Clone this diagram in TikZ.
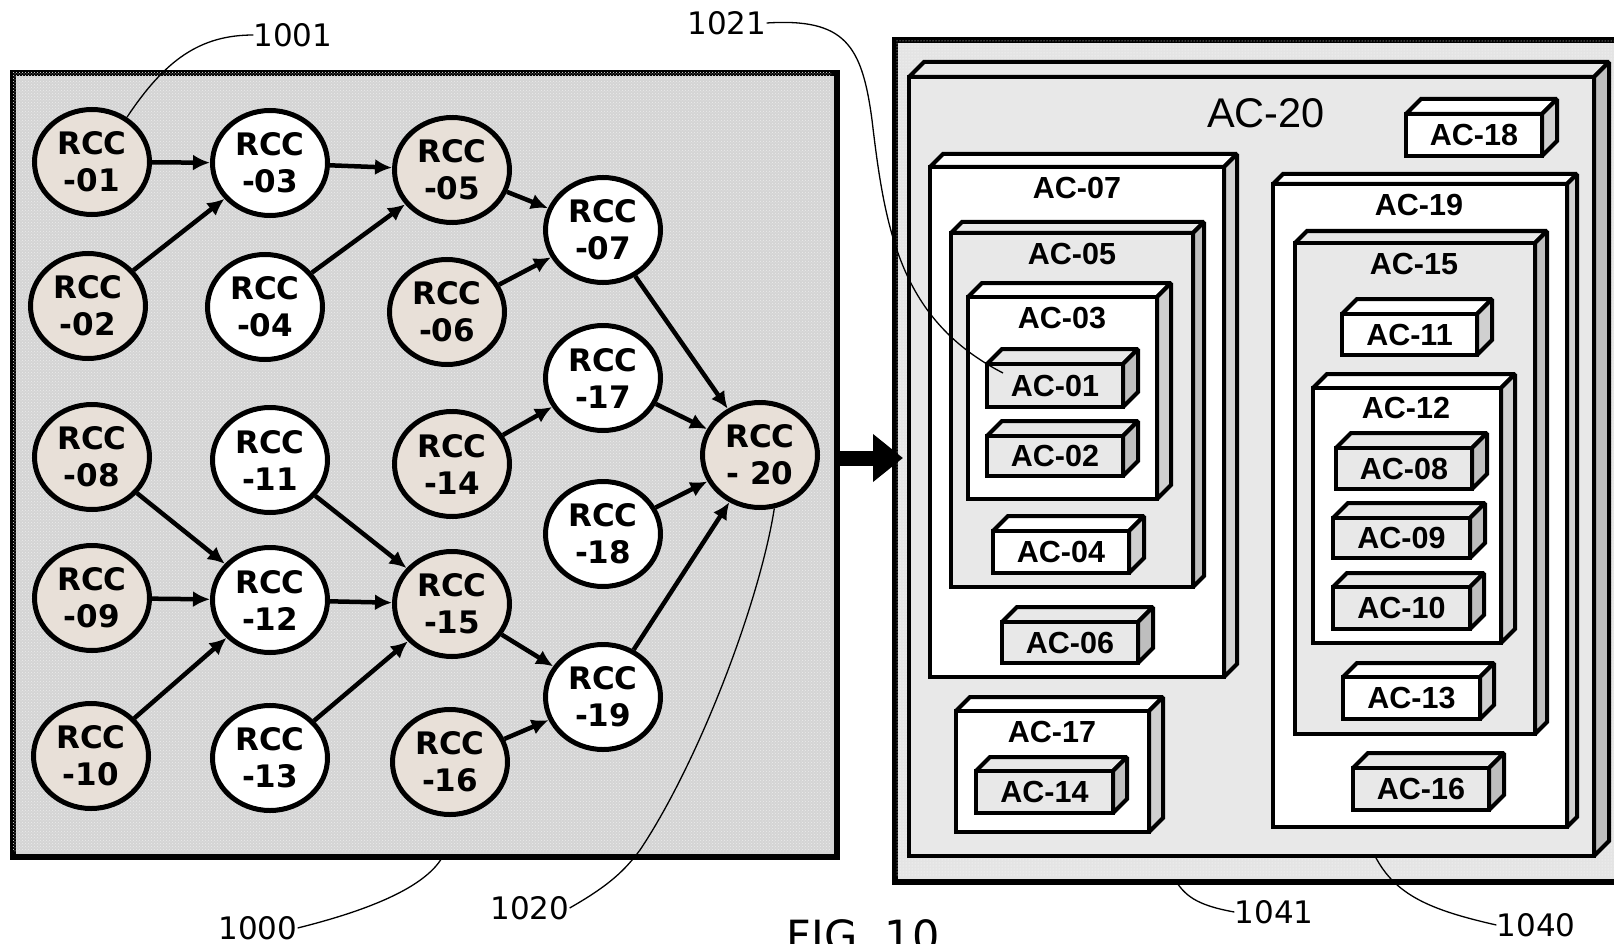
\documentclass[tikz,border=0pt]{standalone}
\usepackage{fontspec}
\setmainfont{DejaVu Sans}
\newfontfamily\arialfont{Liberation Sans}
\usetikzlibrary{arrows.meta,shapes.geometric,patterns}
\definecolor{tannode}{HTML}{E8E0D8}
\definecolor{lightbox}{HTML}{E8E8E8}
\definecolor{sidelight}{HTML}{D0D0D0}
\definecolor{sidedark}{HTML}{BEBEBE}
\definecolor{leftpanel}{HTML}{D4D4D4}
\definecolor{rightpanel}{HTML}{E4E4E4}
\newcommand{\rccfont}{\fontsize{31}{37}\selectfont\bfseries}
\newcommand{\acfont}{\arialfont\fontsize{30.5}{33}\selectfont\bfseries}
\newcommand{\reffont}{\fontsize{31}{33}\selectfont}
\newcommand{\acbox}[8]{%
  \filldraw[boxline,fill=#7] (#2,#3) -- (#2+#6,#3-#6) -- (#4+#6,#3-#6) -- (#4,#3) -- cycle;
  \filldraw[boxline,fill=#8] (#4,#3) -- (#4+#6,#3-#6) -- (#4+#6,#5-#6) -- (#4,#5) -- cycle;
  \node[boxline,draw,fill=#7,anchor=north west,minimum width={#4-#2},minimum height={#5-#3},inner sep=0pt,outer sep=0pt] (#1) at (#2,#3) {};
}
\tikzset{
  rcc/.style={ellipse,draw,line width=5pt,minimum width=115pt,minimum height=105pt,inner sep=0pt,align=center,font=\rccfont},
  rtan/.style={rcc,fill=tannode},
  rwhite/.style={rcc,fill=white},
  edge/.style={line width=4.5pt,-{Latex[length=17pt,width=16pt]}},
  boxline/.style={line width=4pt,line join=miter,miter limit=1.5},
  aclab/.style={font=\acfont,inner sep=0pt},
  refl/.style={font=\reffont,inner sep=0pt},
  leader/.style={line width=1.3pt},
}
\begin{document}
\begin{tikzpicture}[x=1pt,y=-1pt]
\useasboundingbox (0,0) rectangle (1614,944);
\clip (0,0) rectangle (1614,944);
\fill[white] (0,0) rectangle (1614,944);

% left panel
\node[draw,line width=6pt,fill=leftpanel,anchor=north west,minimum width=824pt,minimum height=784pt,inner sep=0pt] (lp) at (10,70) {};
\path[pattern=crosshatch dots,pattern color=white!85!gray] (13,73) rectangle (831,851);

% RCC nodes
\node[rtan]   (r01) at (92,162) {RCC\\-01};
\node[rwhite] (r03) at (270,163) {RCC\\-03};
\node[rtan]   (r05) at (452,170) {RCC\\-05};
\node[rtan]   (r02) at (88,306) {RCC\\-02};
\node[rwhite] (r04) at (265,307) {RCC\\-04};
\node[rtan]   (r06) at (447,312) {RCC\\-06};
\node[rwhite] (r07) at (603,230) {RCC\\-07};
\node[rwhite] (r17) at (603,378) {RCC\\-17};
\node[rtan]   (r20) at (760,455) {RCC\\- 20};
\node[rwhite] (r18) at (603,534) {RCC\\-18};
\node[rwhite] (r19) at (603,697) {RCC\\-19};
\node[rtan]   (r14) at (452,464) {RCC\\-14};
\node[rtan]   (r08) at (92,457) {RCC\\-08};
\node[rwhite] (r11) at (270,460) {RCC\\-11};
\node[rtan]   (r09) at (92,598) {RCC\\-09};
\node[rwhite] (r12) at (270,600) {RCC\\-12};
\node[rtan]   (r15) at (452,604) {RCC\\-15};
\node[rtan]   (r10) at (91,756) {RCC\\-10};
\node[rwhite] (r13) at (270,758) {RCC\\-13};
\node[rtan]   (r16) at (450,762) {RCC\\-16};

% edges
\draw[edge] (r01) -- (r03);
\draw[edge] (r02) -- (r03);
\draw[edge] (r03) -- (r05);
\draw[edge] (r04) -- (r05);
\draw[edge] (r05) -- (r07);
\draw[edge] (r06) -- (r07);
\draw[edge] (r07) -- (r20);
\draw[edge] (r14) -- (r17);
\draw[edge] (r17) -- (r20);
\draw[edge] (r18) -- (r20);
\draw[edge] (r19) -- (r20);
\draw[edge] (r08) -- (r12);
\draw[edge] (r09) -- (r12);
\draw[edge] (r10) -- (r12);
\draw[edge] (r11) -- (r15);
\draw[edge] (r12) -- (r15);
\draw[edge] (r13) -- (r15);
\draw[edge] (r15) -- (r19);
\draw[edge] (r16) -- (r19);

% right outer panel
\node[draw,line width=6pt,fill=rightpanel,anchor=north west,minimum width=760pt,minimum height=842pt,inner sep=0pt] (rp) at (892,37) {};
\path[pattern=dots,pattern color=white] (895,40) rectangle (1614,876);

% big arrow
\coordinate (tip) at (903,458);
\draw[line width=15pt,-{Triangle[length=30pt,width=46pt]}] (lp.east |- tip) -- (tip);

% AC boxes
\acbox{ac20}{909}{77}{1594}{856}{15}{lightbox}{sidedark}
\node[font=\arialfont\fontsize{41.5}{44}\selectfont,inner sep=0pt] (ac20t) at (1266,113) {AC-20};
\acbox{ac18}{1406}{114}{1542}{156}{15}{white}{sidelight}
\node[aclab] (ac18t) at (ac18.center) {AC-18};

\acbox{ac07}{930}{167}{1224}{677}{13}{white}{sidelight}
\node[aclab] (ac07t) at (1077,188) {AC-07};
\acbox{ac05}{951}{233}{1193}{587}{11}{lightbox}{sidedark}
\node[aclab] (ac05t) at (1072,254) {AC-05};
\acbox{ac03}{968}{297}{1157}{499}{14}{white}{sidelight}
\node[aclab] (ac03t) at (1062,318) {AC-03};
\acbox{ac01}{987}{364}{1123}{407}{15}{lightbox}{sidedark}
\node[aclab] (ac01t) at (ac01.center) {AC-01};
\acbox{ac02}{987}{436}{1123}{476}{15}{lightbox}{sidedark}
\node[aclab] (ac02t) at (ac02.center) {AC-02};
\acbox{ac04}{993}{531}{1129}{573}{15}{white}{sidelight}
\node[aclab] (ac04t) at (ac04.center) {AC-04};
\acbox{ac06}{1002}{622}{1138}{663}{15}{lightbox}{sidedark}
\node[aclab] (ac06t) at (ac06.center) {AC-06};

\acbox{ac17}{956}{711}{1149}{832}{14}{white}{sidelight}
\node[aclab] (ac17t) at (1052,732) {AC-17};
\acbox{ac14}{976}{771}{1113}{813}{14}{lightbox}{sidedark}
\node[aclab] (ac14t) at (ac14.center) {AC-14};

\acbox{ac19}{1273}{184}{1567}{827}{10}{white}{sidelight}
\node[aclab] (ac19t) at (1419,205) {AC-19};
\acbox{ac15}{1295}{243}{1535}{734}{12}{lightbox}{sidedark}
\node[aclab] (ac15t) at (1414,264) {AC-15};
\acbox{ac11}{1342}{314}{1477}{355}{15}{white}{sidelight}
\node[aclab] (ac11t) at (ac11.center) {AC-11};
\acbox{ac12}{1313}{388}{1501}{643}{14}{white}{sidelight}
\node[aclab] (ac12t) at (1406,408) {AC-12};
\acbox{ac08}{1336}{448}{1472}{489}{15}{lightbox}{sidedark}
\node[aclab] (ac08t) at (ac08.center) {AC-08};
\acbox{ac09}{1333}{518}{1470}{558}{15}{lightbox}{sidedark}
\node[aclab] (ac09t) at (ac09.center) {AC-09};
\acbox{ac10}{1333}{587}{1470}{629}{14}{lightbox}{sidedark}
\node[aclab] (ac10t) at (ac10.center) {AC-10};
\acbox{ac13}{1343}{677}{1480}{719}{14}{white}{sidelight}
\node[aclab] (ac13t) at (ac13.center) {AC-13};
\acbox{ac16}{1353}{768}{1489}{810}{15}{lightbox}{sidedark}
\node[aclab] (ac16t) at (ac16.center) {AC-16};

% reference labels and leaders
\node[refl] (l1001) at (293,35) {1001};
\node[refl] (l1021) at (727,23) {1021};
\node[refl] (l1000) at (258,928) {1000};
\node[refl] (l1020) at (530,908) {1020};
\node[refl] (l1041) at (1274,912) {1041};
\node[refl] (l1040) at (1536,925) {1040};
\coordinate (e1021) at (1003,373);
\coordinate (e1000) at (443,856);
\coordinate (e1041) at (1175,880);
\coordinate (e1040) at (1375,856);
\draw[leader] (l1001.west) .. controls (200,35) and (165,60) .. (r01.52);
\draw[leader] (l1021.east) .. controls (845,18) and (862,45) .. (872,120) .. controls (885,230) and (900,320) .. (e1021);
\draw[leader] (l1000.east) .. controls (390,905) and (430,880) .. (e1000);
\draw[leader] (l1020.east) .. controls (610,885) and (625,870) .. (640,850) .. controls (700,760) and (760,600) .. (r20.-75);
\draw[leader] (l1041.west) .. controls (1195,905) and (1185,895) .. (e1041);
\draw[leader] (l1040.west) .. controls (1430,910) and (1395,895) .. (e1040);

\node[font=\fontsize{43}{46}\selectfont,anchor=base,inner sep=0pt] (fig) at (863,951) {FIG. 10};
\end{tikzpicture}
\end{document}
